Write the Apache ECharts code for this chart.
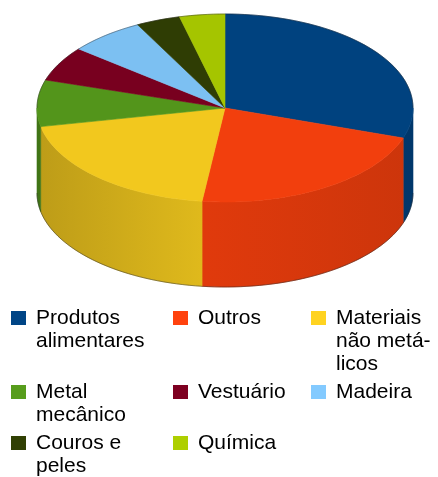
<!DOCTYPE html>
<html>
<head>
<meta charset="utf-8">
<script src="https://cdn.jsdelivr.net/npm/echarts@6/dist/echarts.min.js"></script>
<style>
  html, body { margin: 0; padding: 0; background: #fff; }
  #chart { width: 438px; height: 477px; }
</style>
</head>
<body>
<div id="chart"></div>
<script>
// slices, in drawing order (clockwise from 12 o'clock)
const categories = [
  "Produtos alimentares",
  "Outros",
  "Materiais não metálicos",
  "Metal mecânico",
  "Vestuário",
  "Madeira",
  "Couros e peles",
  "Química",
];
const shares = [30.2, 21.8, 19.9, 8.0, 6.0, 6.5, 3.8, 3.9];
const colors = ["#004586", "#ff420e", "#ffd320", "#579d1c", "#7e0021", "#83caff", "#314004", "#aecf00"];
// legend text as wrapped in the picture
const legendLabels = [
  "Produtos\nalimentares",
  "Outros",
  "Materiais\nnão metá-\nlicos",
  "Metal\nmecânico",
  "Vestuário",
  "Madeira",
  "Couros e\npeles",
  "Química",
];
// legend grid: column and row of each entry
const legendCol = [0, 1, 2, 0, 1, 2, 0, 1];
const legendRow = [0, 0, 0, 1, 1, 1, 2, 2];

const total = shares.reduce((a, b) => a + b, 0);
const starts = shares.map((_, i) => shares.slice(0, i).reduce((a, b) => a + b, 0));

const TILT = 0.5;
const DEPTH = 85;
const LINE_H = 23;
const colLeft = [11, 173, 311];
const rowTop = [311, 385, 436];

function shade(hex, f) {
  const n = parseInt(hex.slice(1), 16);
  const r = Math.round(((n >> 16) & 255) * f);
  const g = Math.round(((n >> 8) & 255) * f);
  const b = Math.round((n & 255) * f);
  return "rgb(" + r + "," + g + "," + b + ")";
}

// points along the rim between two cumulative values, flattened into an ellipse
function rim(api, center, from, to, dy) {
  const n = Math.max(2, Math.ceil(((to - from) / total) * 180));
  const pts = [];
  for (let i = 0; i <= n; i++) {
    const p = api.coord([1, from + ((to - from) * i) / n]);
    pts.push([p[0], center[1] + (p[1] - center[1]) * TILT + dy]);
  }
  return pts;
}

function renderSlice(params, api) {
  const from = api.value(1);
  const to = api.value(2);
  const color = api.visual("color");
  const c = api.coord([0, 0]);
  const leftX = api.coord([1, total * 0.75])[0];
  const rightX = api.coord([1, total * 0.25])[0];
  const children = [];

  // front wall, only where the slice faces the viewer
  const s = Math.max(from, total / 4);
  const e = Math.min(to, (total * 3) / 4);
  if (e > s) {
    const grad = new echarts.graphic.LinearGradient(leftX, 0, rightX, 0, [
      { offset: 0, color: shade(color, 0.74) },
      { offset: 0.45, color: shade(color, 0.88) },
      { offset: 1, color: shade(color, 0.8) },
    ], true);
    const upper = rim(api, c, s, e, 0);
    const lower = rim(api, c, s, e, DEPTH);
    children.push({
      type: "polygon",
      shape: { points: upper.concat(lower.slice().reverse()) },
      style: { fill: grad, stroke: grad, lineWidth: 0.6 },
    });
    children.push({
      type: "polyline",
      shape: { points: lower },
      style: { fill: null, stroke: "rgba(30,30,30,0.45)", lineWidth: 1 },
    });
  }

  // top face
  const topFill = shade(color, 0.95);
  children.push({
    type: "polygon",
    shape: { points: [[c[0], c[1]]].concat(rim(api, c, from, to, 0)) },
    style: { fill: topFill, stroke: topFill, lineWidth: 0.6 },
  });

  // back rim outline
  [[from, Math.min(to, total / 4)], [Math.max(from, (total * 3) / 4), to]].forEach(([a, b]) => {
    if (b > a) {
      children.push({
        type: "polyline",
        shape: { points: rim(api, c, a, b, 0) },
        style: { fill: null, stroke: "rgba(30,30,30,0.4)", lineWidth: 1 },
      });
    }
  });

  return { type: "group", children };
}

// one legend block per entry so the square sits beside the first line
function legendFor(i) {
  const lines = legendLabels[i].split("\n").length;
  const h = 14 + LINE_H * (lines - 1);
  return {
    orient: "vertical",
    left: colLeft[legendCol[i]],
    top: rowTop[legendRow[i]] - 4.5,
    padding: 0,
    itemWidth: 20,
    itemHeight: h,
    icon: "path://M0,0H15V14H0Z M20," + h + "L20," + h,
    selectedMode: false,
    itemStyle: { borderWidth: 0 },
    textStyle: {
      fontFamily: "Liberation Sans",
      fontSize: 21,
      lineHeight: LINE_H,
      color: "#000000",
    },
    formatter: () => legendLabels[i],
    data: [categories[i]],
  };
}

const chart = echarts.init(document.getElementById("chart"), null, { renderer: "canvas" });

chart.setOption({
  backgroundColor: "#ffffff",
  animation: false,
  polar: { center: [225, 108], radius: 188 },
  angleAxis: { type: "value", min: 0, max: total, startAngle: 90, clockwise: true, show: false },
  radiusAxis: { type: "value", min: 0, max: 1, show: false },
  legend: categories.map((_, i) => legendFor(i)),
  series: categories.map((name, i) => ({
    type: "custom",
    name: name,
    coordinateSystem: "polar",
    clip: false,
    silent: true,
    itemStyle: { color: colors[i] },
    encode: { radius: 0, angle: 1 },
    data: [[1, starts[i], starts[i] + shares[i]]],
    renderItem: renderSlice,
  })),
});
</script>
</body>
</html>
